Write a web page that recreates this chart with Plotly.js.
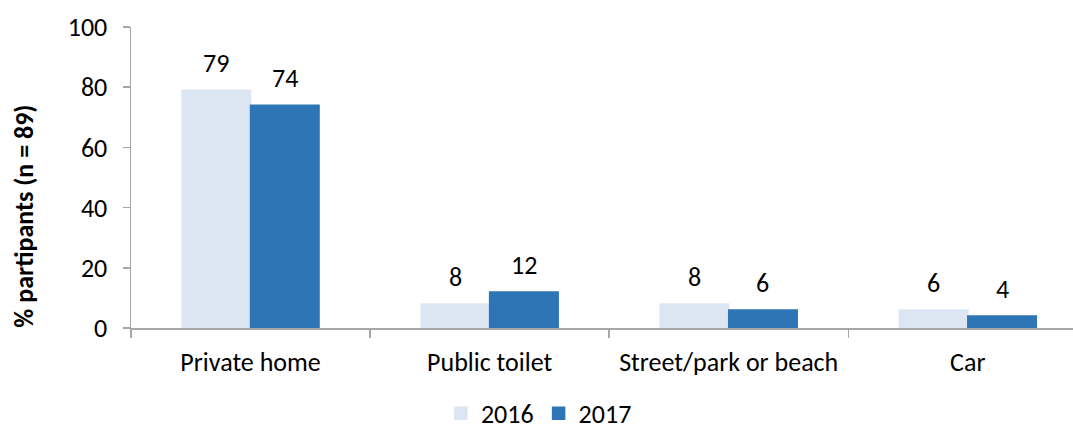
<!DOCTYPE html>
<html>
<head>
<meta charset="utf-8">
<script src="https://cdn.plot.ly/plotly-3.0.1.min.js"></script>
<style>html,body{margin:0;padding:0;background:#fff;}#chart{width:1073px;height:428px;}</style>
</head>
<body>
<div id="chart"></div>
<script>
const categories = ["Private home", "Public toilet", "Street/park or beach", "Car"];
const seriesNames = ["2016", "2017"];
const values2016 = [79, 8, 8, 6];
const values2017 = [74, 12, 6, 4];
const yTitle = "% partipants (n = 89)";

const colors = ["#dce6f2", "#2e75b6"];
const FONT = "Carlito, 'Open Sans', sans-serif";
const FS = 26;
const bargap = 0.427;
const barW = (1 - bargap) / 2;

const traces = [values2016, values2017].map((vals, k) => ({
  type: "bar",
  name: seriesNames[k],
  x: categories,
  y: vals,
  marker: {color: colors[k], line: {width: 1.5, color: colors[k]}},
  hoverinfo: "none"
}));

const annotations = [];
[values2016, values2017].forEach((vals, k) => {
  vals.forEach((v, i) => {
    annotations.push({
      x: i + (k === 0 ? -barW / 2 : barW / 2),
      y: v,
      xref: "x", yref: "y",
      text: String(v),
      showarrow: false,
      yanchor: "bottom",
      yshift: 9,
      font: {family: FONT, size: FS, color: "#000"}
    });
  });
});
// y-axis title (placed as rotated text so it sits lower, as in the reference)
annotations.push({
  xref: "paper", yref: "paper",
  x: 0, xanchor: "center", xshift: -107,
  y: 0.37, yanchor: "middle",
  textangle: -90,
  text: "<b>" + yTitle + "</b>",
  showarrow: false,
  font: {family: FONT, size: 26, color: "#000"}
});

const layout = {
  width: 1073, height: 428,
  margin: {l: 131, r: 0, t: 27, b: 100},
  paper_bgcolor: "#fff", plot_bgcolor: "#fff",
  barmode: "group",
  bargap: bargap,
  bargroupgap: 0,
  font: {family: FONT, size: FS, color: "#000"},
  xaxis: {
    type: "category",
    range: [-0.5, 3.44],
    showline: true, linecolor: "#a6a6a6", linewidth: 1.5,
    ticks: "outside", tickson: "boundaries", ticklen: 8, tickcolor: "#a6a6a6", tickwidth: 1.5,
    showgrid: false, zeroline: false,
    tickfont: {family: FONT, size: FS, color: "#000"},
    ticklabelstandoff: 10
  },
  yaxis: {
    range: [0, 100], dtick: 20,
    showline: true, linecolor: "#a6a6a6", linewidth: 1.5,
    ticks: "outside", ticklen: 7, tickcolor: "#a6a6a6", tickwidth: 1.5,
    showgrid: false, zeroline: false,
    tickfont: {family: FONT, size: FS, color: "#000"},
    ticklabelstandoff: 10
  },
  showlegend: true,
  legend: {
    orientation: "h",
    x: 0.433, xanchor: "center",
    y: 0.034, yref: "container", yanchor: "middle",
    font: {family: FONT, size: FS, color: "#000"},
    itemwidth: 30,
    traceorder: "normal"
  },
  annotations: annotations
};

Plotly.newPlot("chart", traces, layout, {displayModeBar: false, staticPlot: true});
</script>
</body>
</html>
